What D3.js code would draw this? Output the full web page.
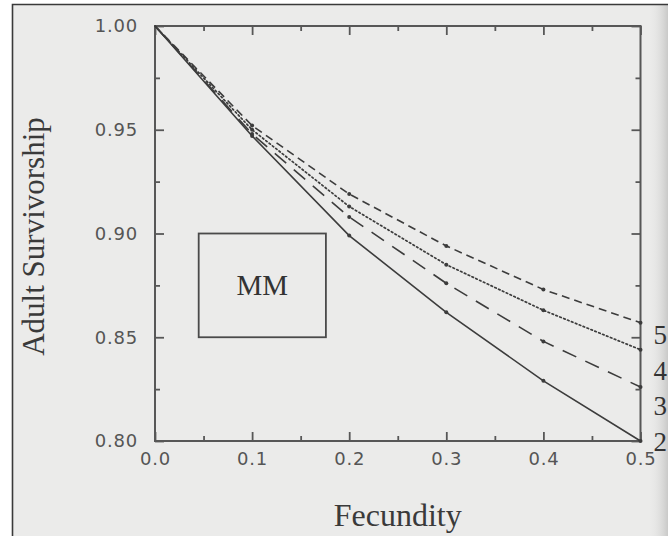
<!DOCTYPE html>
<html>
<head>
<meta charset="utf-8">
<script src="https://cdn.jsdelivr.net/npm/d3@7"></script>
<style>
  html, body { margin: 0; padding: 0; background: #ffffff; }
  svg { display: block; }
</style>
</head>
<body>
<svg id="chart" width="670" height="536"></svg>
<script>
// ---- data ----
const fecundity = [0.0, 0.1, 0.2, 0.3, 0.4, 0.5];
const series2 = [1.000, 0.947, 0.899, 0.862, 0.829, 0.800];
const series3 = [1.000, 0.948, 0.908, 0.876, 0.848, 0.826];
const series4 = [1.000, 0.950, 0.913, 0.885, 0.863, 0.844];
const series5 = [1.000, 0.952, 0.919, 0.894, 0.873, 0.857];
const seriesNames = ["2", "3", "4", "5"];
const xTickValues = [0.0, 0.1, 0.2, 0.3, 0.4, 0.5];
const xTickLabels = ["0.0", "0.1", "0.2", "0.3", "0.4", "0.5"];
const xMinorTicks = [0.05, 0.15, 0.25, 0.35, 0.45];
const yTickValues = [0.80, 0.85, 0.90, 0.95, 1.00];
const yTickLabels = ["0.80", "0.85", "0.90", "0.95", "1.00"];
const yMinorTicks = [0.825, 0.875, 0.925, 0.975];
const boxLabel = "MM";
const boxExtentX = [0.045, 0.176];
const boxExtentY = [0.85, 0.90];
const xTitle = "Fecundity";
const yTitle = "Adult Survivorship";

// ---- layout ----
const svg = d3.select("#chart");
const L = 155, R = 640.5, T = 26, B = 441;
const x = d3.scaleLinear().domain([0, 0.5]).range([L, R]);
const y = d3.scaleLinear().domain([0.80, 1.00]).range([B, T]);
const ink = "#3c3c3c";
const axisInk = "#575757";

// page background: white outside, scanned grey inside a thin frame
const defs = svg.append("defs");
const grad = defs.append("linearGradient").attr("id", "edge").attr("x1", 0).attr("x2", 1).attr("y1", 0).attr("y2", 0);
grad.append("stop").attr("offset", "0%").attr("stop-color", "#ebebea").attr("stop-opacity", 0);
grad.append("stop").attr("offset", "100%").attr("stop-color", "#c9c9c8").attr("stop-opacity", 1);

svg.append("rect").attr("x", 13).attr("y", 5).attr("width", 655).attr("height", 531).attr("fill", "#ebebea");
svg.append("rect").attr("x", 648).attr("y", 5).attr("width", 20).attr("height", 531).attr("fill", "url(#edge)");
svg.append("path")
  .attr("d", "M12.5,536 L12.5,4.5 L668,4.5")
  .attr("fill", "none").attr("stroke", "#3a3a3a").attr("stroke-width", 1.6);

// ---- axes ----
function styleAxis(g, showLabels) {
  g.select(".domain").remove();
  g.selectAll(".tick line").attr("stroke", axisInk).attr("stroke-width", 1.8);
  g.selectAll(".tick text")
    .attr("fill", "#555")
    .attr("font-family", "'DejaVu Sans', sans-serif")
    .attr("font-size", 18)
    .attr("letter-spacing", "0.8px");
  if (!showLabels) g.selectAll(".tick text").remove();
}

const xAxisB = d3.axisBottom(x).tickValues(xTickValues)
  .tickFormat((d, i) => xTickLabels[i]).tickSize(-9).tickPadding(11);
svg.append("g").attr("transform", `translate(0,${B})`).call(xAxisB).call(g => styleAxis(g, true));
svg.append("g").attr("transform", `translate(0,${B})`)
  .call(d3.axisBottom(x).tickValues(xMinorTicks).tickSize(-5)).call(g => styleAxis(g, false));

svg.append("g").attr("transform", `translate(0,${T})`)
  .call(d3.axisTop(x).tickValues(xTickValues).tickSize(-9)).call(g => styleAxis(g, false));
svg.append("g").attr("transform", `translate(0,${T})`)
  .call(d3.axisTop(x).tickValues(xMinorTicks).tickSize(-5)).call(g => styleAxis(g, false));

const yAxisL = d3.axisLeft(y).tickValues(yTickValues)
  .tickFormat((d, i) => yTickLabels[i]).tickSize(-9).tickPadding(17);
svg.append("g").attr("transform", `translate(${L},0)`).call(yAxisL).call(g => styleAxis(g, true));
svg.append("g").attr("transform", `translate(${L},0)`)
  .call(d3.axisLeft(y).tickValues(yMinorTicks).tickSize(-5)).call(g => styleAxis(g, false));

svg.append("g").attr("transform", `translate(${R},0)`)
  .call(d3.axisRight(y).tickValues(yTickValues).tickSize(-9)).call(g => styleAxis(g, false));
svg.append("g").attr("transform", `translate(${R},0)`)
  .call(d3.axisRight(y).tickValues(yMinorTicks).tickSize(-5)).call(g => styleAxis(g, false));

// frame
svg.append("rect")
  .attr("x", L).attr("y", T).attr("width", R - L).attr("height", B - T)
  .attr("fill", "none").attr("stroke", axisInk).attr("stroke-width", 2);

// ---- curves ----
const allSeries = [series2, series3, series4, series5];
const dashes = [null, "15,10", "1.6,2.6", "8,5"];
const line = d3.line().x((d, i) => x(fecundity[i])).y(d => y(d));

allSeries.forEach((vals, k) => {
  svg.append("path")
    .datum(vals)
    .attr("d", line)
    .attr("fill", "none")
    .attr("stroke", ink)
    .attr("stroke-width", k === 2 ? 1.7 : 1.6)
    .attr("stroke-linecap", k === 2 ? "round" : "butt")
    .attr("stroke-dasharray", dashes[k]);
  svg.append("g").selectAll("circle")
    .data(vals.slice(1))
    .join("circle")
    .attr("cx", (d, i) => x(fecundity[i + 1]))
    .attr("cy", d => y(d))
    .attr("r", 2)
    .attr("fill", ink);
});

// series labels at the right
const labelG = svg.append("g")
  .attr("font-family", "'Liberation Serif', 'Times New Roman', serif")
  .attr("font-size", 27)
  .attr("fill", "#333");
seriesNames.forEach((name, i) => {
  labelG.append("text")
    .attr("x", R + 13)
    .attr("y", y(0.80) + 10 - i * 35.7)
    .text(name);
});

// ---- MM box ----
svg.append("rect")
  .attr("x", x(boxExtentX[0])).attr("y", y(boxExtentY[1]))
  .attr("width", x(boxExtentX[1]) - x(boxExtentX[0]))
  .attr("height", y(boxExtentY[0]) - y(boxExtentY[1]))
  .attr("fill", "none").attr("stroke", "#4a4a4a").attr("stroke-width", 1.8);
svg.append("text")
  .attr("x", (x(boxExtentX[0]) + x(boxExtentX[1])) / 2)
  .attr("y", y((boxExtentY[0] + boxExtentY[1]) / 2) + 10)
  .attr("text-anchor", "middle")
  .attr("font-family", "'Liberation Serif', 'Times New Roman', serif")
  .attr("font-size", 29)
  .attr("fill", "#333")
  .text(boxLabel);

// ---- titles ----
svg.append("text")
  .attr("x", (L + R) / 2)
  .attr("y", 526)
  .attr("text-anchor", "middle")
  .attr("font-family", "'Liberation Serif', 'Times New Roman', serif")
  .attr("font-size", 32)
  .attr("fill", "#3a3a3a")
  .text(xTitle);
svg.append("text")
  .attr("transform", `translate(44,${(T + B) / 2 + 3}) rotate(-90)`)
  .attr("text-anchor", "middle")
  .attr("font-family", "'Liberation Serif', 'Times New Roman', serif")
  .attr("font-size", 31)
  .attr("fill", "#3a3a3a")
  .text(yTitle);
</script>
</body>
</html>
